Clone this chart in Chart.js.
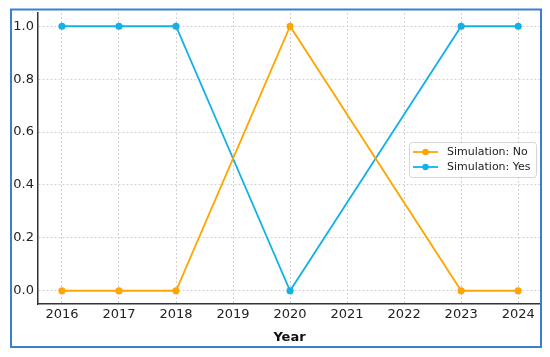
<!DOCTYPE html>
<html>
<head>
<meta charset="utf-8">
<script src="https://cdn.jsdelivr.net/npm/chart.js@4/dist/chart.umd.min.js"></script>
<style>
  html, body { margin: 0; padding: 0; background: #fff; }
  #wrap { width: 550px; height: 357px; position: relative; }
</style>
</head>
<body>
<div id="wrap"><canvas id="line-chart" width="550" height="357"></canvas></div>
<script>
var years = [2016, 2017, 2018, 2019, 2020, 2021, 2022, 2023, 2024];
var yTicks = [0, 0.2, 0.4, 0.6, 0.8, 1.0];

var simYears = [2016, 2017, 2018, 2020, 2023, 2024];
var simNo  = [0, 0, 0, 1, 0, 0];
var simYes = [1, 1, 1, 0, 1, 1];

var orange = '#FFA500';
var blue = '#14B1E7';

function toPoints(xs, ys) {
  return xs.map(function (x, i) { return { x: x, y: ys[i] }; });
}

// legend inside the plot, like matplotlib
var innerLegend = {
  id: 'innerLegend',
  afterDraw: function (chart) {
    var ctx = chart.ctx;
    var sets = chart.data.datasets;
    ctx.save();
    ctx.beginPath();
    ctx.roundRect(409.5, 142.5, 127, 35, 3);
    ctx.fillStyle = 'rgba(255,255,255,0.85)';
    ctx.fill();
    ctx.strokeStyle = '#d5d5d5';
    ctx.lineWidth = 1;
    ctx.stroke();
    sets.forEach(function (ds, i) {
      var y = 152 + i * 15;
      ctx.strokeStyle = ds.borderColor;
      ctx.lineWidth = 1.8;
      ctx.beginPath();
      ctx.moveTo(413, y);
      ctx.lineTo(438, y);
      ctx.stroke();
      ctx.fillStyle = ds.borderColor;
      ctx.beginPath();
      ctx.arc(425.5, y, 3.2, 0, Math.PI * 2);
      ctx.fill();
      ctx.fillStyle = '#222';
      ctx.font = '11px "DejaVu Sans"';
      ctx.textBaseline = 'middle';
      ctx.fillText(ds.label, 447, y);
    });
    ctx.restore();
  }
};

// blue frame round the picture
var frame = {
  id: 'frame',
  afterDraw: function (chart) {
    var ctx = chart.ctx;
    ctx.save();
    ctx.strokeStyle = '#3a7fd4';
    ctx.lineWidth = 2;
    ctx.strokeRect(11, 9.5, 530, 337.5);
    ctx.restore();
  }
};

var mychart = document.getElementById('line-chart');
var myLineChart = new Chart(mychart, {
  type: 'line',
  data: {
    datasets: [
      {
        label: 'Simulation: No',
        data: toPoints(simYears, simNo),
        borderColor: orange,
        backgroundColor: orange,
        borderWidth: 1.8,
        pointRadius: 3.6,
        pointBorderWidth: 0,
        lineTension: 0,
        fill: false
      },
      {
        label: 'Simulation: Yes',
        data: toPoints(simYears, simYes),
        borderColor: blue,
        backgroundColor: blue,
        borderWidth: 1.8,
        pointRadius: 3.6,
        pointBorderWidth: 0,
        lineTension: 0,
        fill: false
      }
    ]
  },
  options: {
    responsive: false,
    animation: false,
    layout: { padding: { left: 0, right: 9, top: 13, bottom: 0 } },
    plugins: {
      legend: { display: false },
      tooltip: { enabled: false }
    },
    scales: {
      x: {
        type: 'linear',
        min: 2015.58,
        max: 2024.4,
        afterBuildTicks: function (scale) {
          scale.ticks = years.map(function (v) { return { value: v }; });
        },
        afterFit: function (scale) { scale.height = 53; },
        ticks: {
          autoSkip: false,
          maxRotation: 0,
          padding: 3,
          color: '#222',
          font: { family: 'DejaVu Sans', size: 13 },
          callback: function (v) { return String(v); }
        },
        grid: { color: '#d2d2d2', lineWidth: 1, drawTicks: false },
        border: { display: true, color: '#333', width: 1.5, dash: [2, 2] },
        title: {
          display: true,
          text: 'Year',
          color: '#111',
          font: { family: 'DejaVu Sans', size: 13, weight: 'bold' },
          padding: { top: 0, bottom: 12 }
        }
      },
      y: {
        min: -0.05,
        max: 1.05,
        afterBuildTicks: function (scale) {
          scale.ticks = yTicks.map(function (v) { return { value: v }; });
        },
        afterFit: function (scale) { scale.width = 38; },
        ticks: {
          padding: 4,
          color: '#222',
          font: { family: 'DejaVu Sans', size: 13 },
          callback: function (v) { return v.toFixed(1); }
        },
        grid: { color: '#d2d2d2', lineWidth: 1, drawTicks: false },
        border: { display: true, color: '#333', width: 1.5, dash: [2, 2] }
      }
    }
  },
  plugins: [innerLegend, frame]
});
</script>
</body>
</html>
